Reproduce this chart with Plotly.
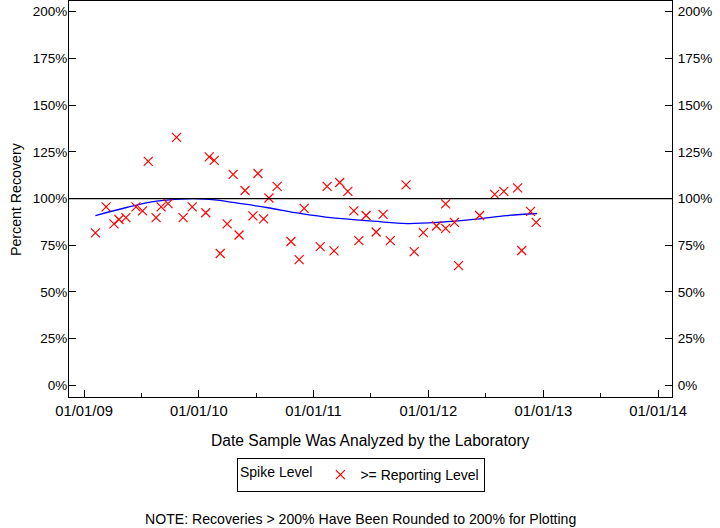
import plotly.graph_objects as go

# Sample analysis dates and percent recoveries (>= Reporting Level)
dates = [
    "2009-02-06", "2009-03-12", "2009-04-06", "2009-04-22", "2009-05-14", "2009-06-15",
    "2009-07-06", "2009-07-24", "2009-08-18", "2009-09-03", "2009-09-25", "2009-10-22",
    "2009-11-12", "2009-12-11", "2010-01-23", "2010-02-03", "2010-02-19", "2010-03-10",
    "2010-04-01", "2010-04-20", "2010-05-09", "2010-05-28", "2010-06-22", "2010-07-08",
    "2010-07-26", "2010-08-12", "2010-09-07", "2010-10-21", "2010-11-16", "2010-12-02",
    "2011-01-22", "2011-02-13", "2011-03-07", "2011-03-25", "2011-04-20", "2011-05-09",
    "2011-05-25", "2011-06-17", "2011-07-19", "2011-08-10", "2011-09-02", "2011-10-22",
    "2011-11-17", "2011-12-16", "2012-01-27", "2012-02-25", "2012-02-25", "2012-03-24",
    "2012-04-06", "2012-06-12", "2012-07-30", "2012-08-28", "2012-10-11", "2012-10-24",
    "2012-11-21", "2012-12-09",
]
recovery = [
    81.6, 95.5, 86.4, 88.8, 89.8, 95.5,
    93.4, 119.9, 89.8, 95.5, 97.3, 132.7,
    89.8, 95.5, 92.4, 122.3, 120.4, 70.6,
    86.4, 112.9, 80.5, 104.3, 90.7, 113.4,
    89.1, 100.3, 106.5, 77.0, 67.3, 94.7,
    74.3, 106.5, 72.0, 108.6, 103.8, 93.4,
    77.5, 90.9, 82.1, 91.5, 77.5, 107.3,
    71.6, 81.8, 85.3, 97.1, 84.0, 87.2,
    64.1, 90.9, 102.2, 103.8, 105.7, 72.2,
    93.1, 87.2,
]

# Smoothed trend line
trend_dates = [
    "2009-02-06", "2009-05-16", "2009-08-19", "2009-12-13", "2010-03-09", "2010-04-19",
    "2010-08-05", "2010-11-19", "2011-03-04", "2011-07-09", "2011-10-25", "2012-02-08",
    "2012-05-23", "2012-09-07", "2012-12-12",
]
trend_values = [
    90.9, 95.2, 98.6, 100.0, 99.0, 97.9,
    95.2, 92.0, 89.6, 87.9, 86.6, 87.3,
    88.8, 90.9, 92.0,
]

reference_level = 100
y_ticks = [0, 25, 50, 75, 100, 125, 150, 175, 200]
y_ticklabels = ["0%", "25%", "50%", "75%", "100%", "125%", "150%", "175%", "200%"]
x_ticks = ["2009-01-01", "2010-01-01", "2011-01-01", "2012-01-01", "2013-01-01", "2014-01-01"]
x_ticklabels = ["01/01/09", "01/01/10", "01/01/11", "01/01/12", "01/01/13", "01/01/14"]
x_minor_ticks = ["2009-07-02", "2010-07-02", "2011-07-02", "2012-07-02", "2013-07-02"]

FONT = "Liberation Sans, Arial, sans-serif"

fig = go.Figure()
fig.add_trace(go.Scatter(
    x=trend_dates, y=trend_values, mode="lines",
    line=dict(color="#0000FF", width=1.3, shape="spline"),
    showlegend=False, hoverinfo="skip",
))
fig.add_trace(go.Scatter(
    x=dates, y=recovery, mode="markers", name=">= Reporting Level",
    marker=dict(symbol="x-thin-open", size=9, color="#FF0000",
                line=dict(color="#FF0000", width=1.2)),
))
fig.add_trace(go.Scatter(x=[None], y=[None], yaxis="y2", showlegend=False, hoverinfo="skip"))

fig.add_shape(type="line", xref="paper", x0=0, x1=1, yref="y",
              y0=reference_level, y1=reference_level,
              line=dict(color="black", width=1.3))

yr = [-6.2, 205.7]
axis_common = dict(
    ticks="inside", ticklen=7, tickwidth=1, tickcolor="black",
    showline=True, linecolor="black", linewidth=1,
    showgrid=False, zeroline=False,
)
fig.update_layout(
    width=720, height=528,
    margin=dict(l=69, r=48, t=1, b=131, autoexpand=False),
    paper_bgcolor="white", plot_bgcolor="white",
    font=dict(family=FONT, color="black", size=13),
    xaxis=dict(
        type="date", range=["2008-11-14", "2014-02-14"],
        tickmode="array", tickvals=x_ticks, ticktext=x_ticklabels,
        minor=dict(ticks="inside", ticklen=4, tickwidth=1, tickcolor="black",
                   tickmode="array", tickvals=x_minor_ticks),
        mirror=True, tickfont=dict(size=14.8),
        **axis_common,
    ),
    yaxis=dict(
        range=yr, tickmode="array", tickvals=y_ticks, ticktext=y_ticklabels,
        mirror=True, tickfont=dict(size=13.5), ticklabelstandoff=-2,
        **axis_common,
    ),
    yaxis2=dict(
        range=yr, tickmode="array", tickvals=y_ticks, ticktext=y_ticklabels,
        overlaying="y", side="right", anchor="x",
        tickfont=dict(size=13.5), ticklabelstandoff=2,
        **axis_common,
    ),
    showlegend=True,
    legend=dict(
        orientation="h", x=(237 - 69) / 603, xanchor="left",
        y=(397 - 458) / 396, yanchor="top",
        title=dict(text="Spike Level", font=dict(size=14)),
        font=dict(size=14), bordercolor="black", borderwidth=1,
        bgcolor="white",
    ),
    annotations=[
        dict(text="Date Sample Was Analyzed by the Laboratory", xref="paper", yref="paper",
             x=0.5, y=(397 - 440) / 396, xanchor="center", yanchor="middle", showarrow=False,
             font=dict(size=15.6)),
        dict(text="Percent Recovery", xref="paper", yref="paper", textangle=-90,
             x=(16 - 69) / 603, xanchor="center", y=0.5, yanchor="middle", showarrow=False,
             font=dict(size=14.2)),
        dict(text="NOTE: Recoveries > 200% Have Been Rounded to 200% for Plotting",
             xref="paper", yref="paper", x=(360 - 69) / 603, y=(397 - 519) / 396,
             xanchor="center", yanchor="middle", showarrow=False, font=dict(size=14.1)),
    ],
)

fig.write_html("out.html", config={"displayModeBar": False},
               post_script="document.body.style.margin='0';")
